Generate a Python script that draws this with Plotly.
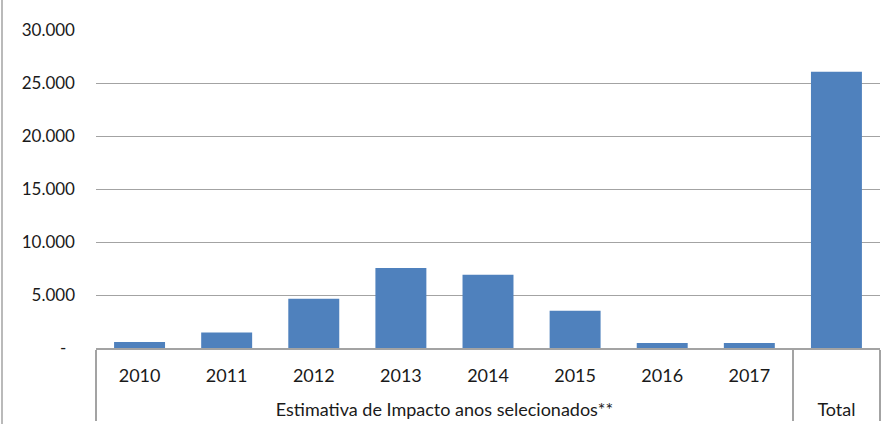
import plotly.graph_objects as go

# Estimated impact by year (R$ milhões) plus the overall total
groups = ["Estimativa de Impacto anos selecionados**"] * 8 + ["Total"]
periods = ["2010", "2011", "2012", "2013", "2014", "2015", "2016", "2017", "\u00a0"]
impact = [570, 1470, 4650, 7550, 6920, 3520, 480, 470, 26050]

y_ticks = [0, 5000, 10000, 15000, 20000, 25000, 30000]
y_labels = ["-\u00a0\u00a0", "5.000", "10.000", "15.000", "20.000", "25.000", "30.000"]

BAR = "#4F81BD"
GRID = "#a3a3a3"
TEXT = "#1a1a1a"
FONT = "Lato, 'Open Sans', sans-serif"

W, H = 884, 424
ML, MR, MT, MB = 96, 4, 30, 76
PW, PH = W - ML - MR, H - MT - MB

# a small trailing line under each year opens space above the group row
spacer = "<br><span style='font-size:6px'>\u00a0</span>"
period_text = [p + spacer for p in periods]

fig = go.Figure(
    go.Bar(
        x=[groups, period_text],
        y=impact,
        marker=dict(color=BAR, line=dict(width=0)),
        hoverinfo="y",
    )
)

fig.update_layout(
    width=W,
    height=H,
    margin=dict(l=ML, r=MR, t=MT, b=MB, pad=0),
    paper_bgcolor="white",
    plot_bgcolor="white",
    bargap=0.415,
    showlegend=False,
    font=dict(family=FONT, size=17, color=TEXT),
)

fig.update_xaxes(
    type="multicategory",
    showline=True,
    linecolor=GRID,
    linewidth=1.5,
    showdividers=True,
    dividercolor=GRID,
    dividerwidth=1.5,
    ticks="",
    ticklabelstandoff=11,
    showgrid=False,
    tickfont=dict(family=FONT, size=18, color=TEXT),
)

fig.update_yaxes(
    range=[0, 30000],
    tickvals=y_ticks,
    ticktext=y_labels,
    showgrid=True,
    gridcolor=GRID,
    gridwidth=1.4,
    zeroline=False,
    showline=False,
    ticks="",
    ticklabelstandoff=20,
    tickfont=dict(family=FONT, size=17, color=TEXT),
    fixedrange=True,
)

# Outer frame line on the left edge of the chart area
def px_x(p):
    return (p - ML) / PW

def px_y(p):
    return (H - MB - p) / PH

fig.add_shape(
    type="line",
    xref="paper", yref="paper",
    x0=px_x(2), x1=px_x(2),
    y0=px_y(H + 2), y1=px_y(-2),
    line=dict(color=GRID, width=1.5),
)

fig.write_html("out.html")
